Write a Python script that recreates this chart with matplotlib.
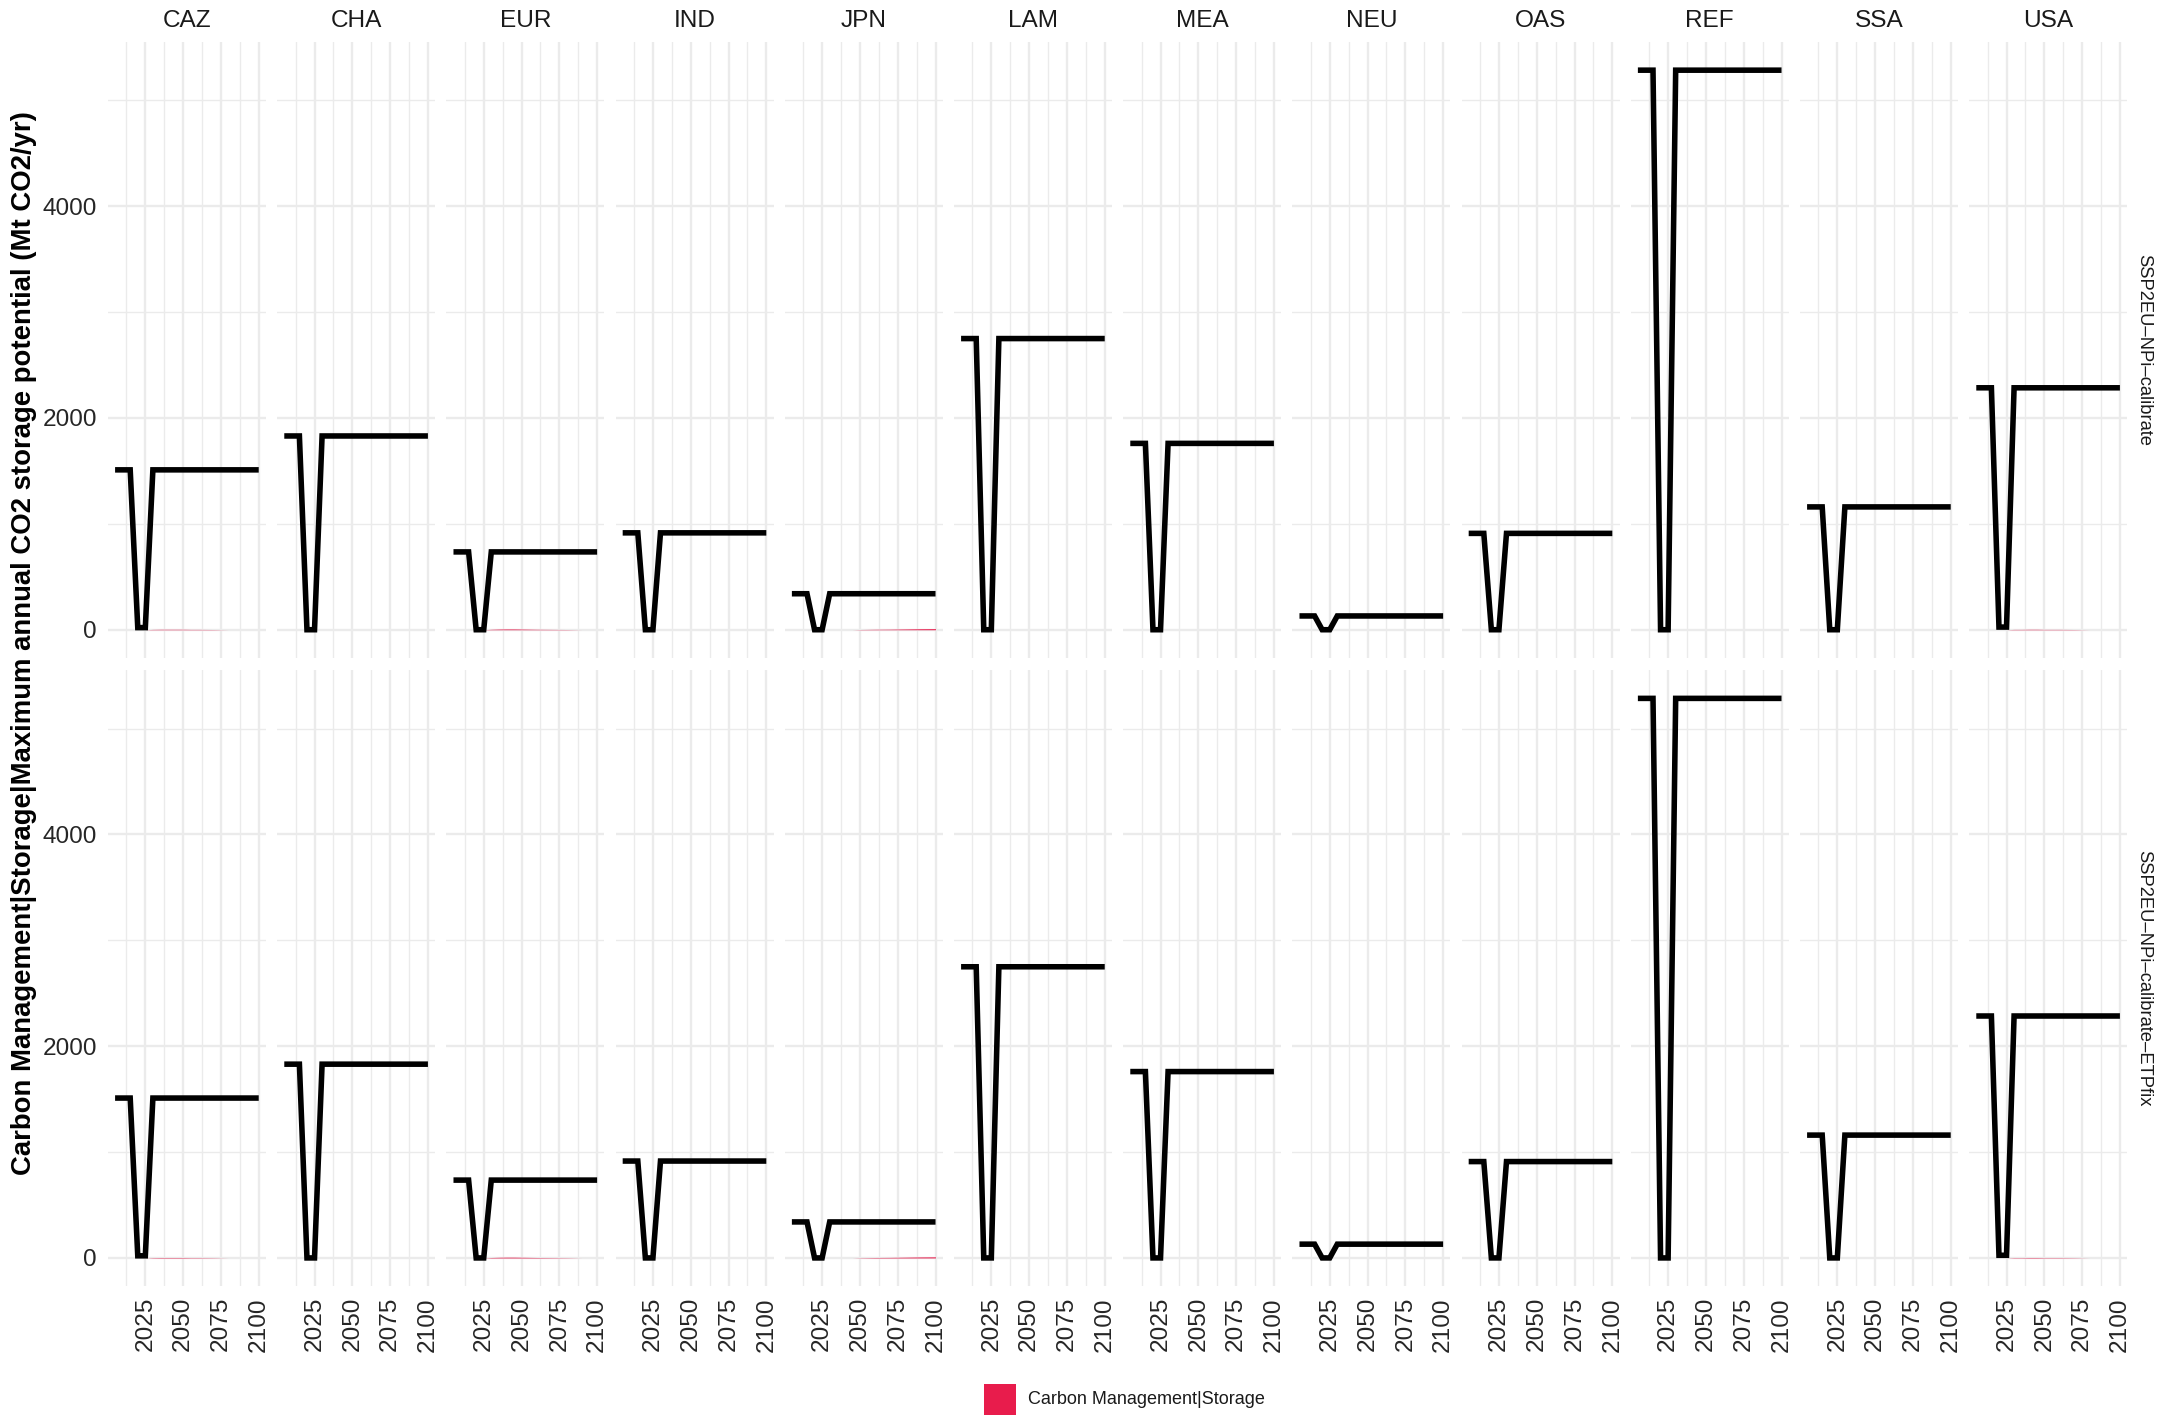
import matplotlib
matplotlib.use("Agg")
import matplotlib.pyplot as plt
from matplotlib.patches import Rectangle

plt.rcParams['font.family'] = ['Liberation Sans', 'DejaVu Sans']

# ---------------- data ----------------
regions = ["CAZ", "CHA", "EUR", "IND", "JPN", "LAM", "MEA", "NEU", "OAS", "REF", "SSA", "USA"]
scenarios = ["SSP2EU\u2013NPi\u2013calibrate", "SSP2EU\u2013NPi\u2013calibrate\u2013ETPfix"]
years = [2005, 2010, 2015, 2020, 2025, 2030, 2035, 2040, 2045, 2050, 2055, 2060, 2070, 2080, 2090, 2100]

# Maximum annual CO2 storage potential (Mt CO2/yr)
pot_CAZ = [1510, 1510, 1510, 20, 20, 1510, 1510, 1510, 1510, 1510, 1510, 1510, 1510, 1510, 1510, 1510]
pot_CHA = [1830, 1830, 1830, 0, 0, 1830, 1830, 1830, 1830, 1830, 1830, 1830, 1830, 1830, 1830, 1830]
pot_EUR = [735, 735, 735, 0, 0, 735, 735, 735, 735, 735, 735, 735, 735, 735, 735, 735]
pot_IND = [915, 915, 915, 0, 0, 915, 915, 915, 915, 915, 915, 915, 915, 915, 915, 915]
pot_JPN = [340, 340, 340, 0, 0, 340, 340, 340, 340, 340, 340, 340, 340, 340, 340, 340]
pot_LAM = [2750, 2750, 2750, 0, 0, 2750, 2750, 2750, 2750, 2750, 2750, 2750, 2750, 2750, 2750, 2750]
pot_MEA = [1760, 1760, 1760, 0, 0, 1760, 1760, 1760, 1760, 1760, 1760, 1760, 1760, 1760, 1760, 1760]
pot_NEU = [130, 130, 130, 0, 0, 130, 130, 130, 130, 130, 130, 130, 130, 130, 130, 130]
pot_OAS = [910, 910, 910, 0, 0, 910, 910, 910, 910, 910, 910, 910, 910, 910, 910, 910]
pot_REF = [5285, 5285, 5285, 0, 0, 5285, 5285, 5285, 5285, 5285, 5285, 5285, 5285, 5285, 5285, 5285]
pot_SSA = [1160, 1160, 1160, 0, 0, 1160, 1160, 1160, 1160, 1160, 1160, 1160, 1160, 1160, 1160, 1160]
pot_USA = [2285, 2285, 2285, 25, 25, 2285, 2285, 2285, 2285, 2285, 2285, 2285, 2285, 2285, 2285, 2285]

# Carbon Management|Storage (Mt CO2/yr) -- tiny values
sto_zero = [0, 0, 0, 0, 0, 0, 0, 0, 0, 0, 0, 0, 0, 0, 0, 0]
sto_CAZ = [0, 0, 0, 0, 0, 3, 4, 4, 4, 4, 3, 3, 2, 0, 0, 0]
sto_EUR = [0, 0, 0, 0, 0, 4, 6, 7, 7, 6, 5, 4, 3, 2, 0, 0]
sto_JPN = [0, 0, 0, 0, 0, 0, 0, 0, 0, 2, 3, 4, 5, 7, 9, 10]
sto_USA = [0, 0, 0, 0, 0, 3, 3, 4, 4, 3, 3, 3, 2, 0, 0, 0]

potential = {"CAZ": pot_CAZ, "CHA": pot_CHA, "EUR": pot_EUR, "IND": pot_IND, "JPN": pot_JPN,
             "LAM": pot_LAM, "MEA": pot_MEA, "NEU": pot_NEU, "OAS": pot_OAS, "REF": pot_REF,
             "SSA": pot_SSA, "USA": pot_USA}
storage = {r: sto_zero for r in regions}
storage.update({"CAZ": sto_CAZ, "EUR": sto_EUR, "JPN": sto_JPN, "USA": sto_USA})

x_major = [2025, 2050, 2075, 2100]
x_minor = [2012.5, 2037.5, 2062.5, 2087.5]
y_major = [0, 2000, 4000]
y_minor = [1000, 3000, 5000]

# ---------------- layout ----------------
W, H = 2179, 1423
DPI = 200
fig = plt.figure(figsize=(W / DPI, H / DPI), dpi=DPI)
fig.patch.set_facecolor("white")

left0, pitch, pw = 107.9, 169.2, 158.0
rows = [(42.2, 657.7), (670.4, 1285.9)]
fill_col = "#E81C4C"
grid_col = "#EBEBEB"

ymax = max(max(v) for v in potential.values())
ypad = 0.05 * ymax
xpad = 0.05 * (years[-1] - years[0])

for ri, scen in enumerate(scenarios):
    top, bot = rows[ri]
    for ci, reg in enumerate(regions):
        l = left0 + ci * pitch
        ax = fig.add_axes([l / W, 1 - bot / H, pw / W, (bot - top) / H])
        ax.set_facecolor("white")
        for s in ax.spines.values():
            s.set_visible(False)
        ax.set_xlim(years[0] - xpad, years[-1] + xpad)
        ax.set_ylim(-ypad, ymax + ypad)
        ax.set_xticks(x_major)
        ax.set_xticks(x_minor, minor=True)
        ax.set_yticks(y_major)
        ax.set_yticks(y_minor, minor=True)
        ax.grid(which="major", color=grid_col, lw=0.85, zorder=0)
        ax.grid(which="minor", color=grid_col, lw=0.5, zorder=0)
        ax.set_axisbelow(True)
        ax.tick_params(which="both", length=0)
        ax.tick_params(axis="y", pad=4, labelsize=8.8, labelcolor="#262626")
        ax.tick_params(axis="x", pad=4, labelsize=8.8, labelcolor="#262626", labelrotation=90)
        if ci != 0:
            ax.set_yticklabels([])
        if ri != len(scenarios) - 1:
            ax.set_xticklabels([])
        else:
            for t in ax.get_xticklabels():
                t.set_verticalalignment("top")
        ax.fill_between(years, 0, storage[reg], color=fill_col, lw=0, zorder=2)
        ax.plot(years, potential[reg], color="black", lw=2.0, zorder=3,
                solid_joinstyle="miter", solid_capstyle="butt")
        if ri == 0:
            ax.text(0.5, 1 + (42.2 - 21) / (bot - top), reg, transform=ax.transAxes,
                    ha="center", va="center", fontsize=8.8, color="#1A1A1A")
    fig.text(2144 / W, 1 - (top + bot) / 2 / H, scen, rotation=-90, ha="center", va="center",
             fontsize=6.6, color="#1A1A1A")

fig.text(23.6 / W, 1 - 643 / H,
         "Carbon Management|Storage|Maximum annual CO2 storage potential (Mt CO2/yr)",
         rotation=90, ha="center", va="center", fontsize=9.9, fontweight="bold", color="black")

# legend
fig.patches.append(Rectangle((984 / W, 1 - 1415 / H), 32 / W, 31 / H, transform=fig.transFigure,
                             facecolor=fill_col, edgecolor="none"))
fig.text(1028 / W, 1 - 1400 / H, "Carbon Management|Storage", ha="left", va="center",
         fontsize=6.5, color="#1A1A1A")

fig.savefig("out.png", dpi=DPI, facecolor="white")
